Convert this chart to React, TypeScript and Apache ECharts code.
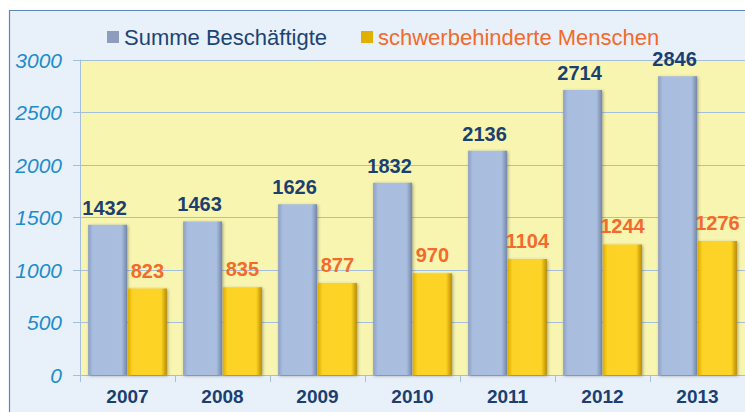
import React, { useEffect, useRef } from "react";
import * as echarts from "echarts";

const years = ["2007", "2008", "2009", "2010", "2011", "2012", "2013"];
const totalEmployed = [1432, 1463, 1626, 1832, 2136, 2714, 2846];
const disabledPeople = [823, 835, 877, 970, 1104, 1244, 1276];
const yTicks = [0, 500, 1000, 1500, 2000, 2500, 3000];

const FONT = "Liberation Sans, Arial, sans-serif";

const blueGrad = new echarts.graphic.LinearGradient(0, 0, 1, 0, [
  { offset: 0, color: "#8c9fc2" },
  { offset: 0.12, color: "#a9bddf" },
  { offset: 0.85, color: "#aabfe0" },
  { offset: 1, color: "#7486a8" },
]);
const yellowGrad = new echarts.graphic.LinearGradient(0, 0, 1, 0, [
  { offset: 0, color: "#e0ae00" },
  { offset: 0.12, color: "#fcd227" },
  { offset: 0.85, color: "#fdd425" },
  { offset: 1, color: "#b98c00" },
]);

export default function App() {
  const ref = useRef<HTMLDivElement>(null);
  useEffect(() => {
    document.body.style.margin = "0";
    const chart = echarts.init(ref.current!, null, { renderer: "svg" });
    chart.setOption({
      animation: false,
      backgroundColor: "#ffffff",
      graphic: [
        {
          type: "rect",
          z: -10,
          shape: { x: 9.5, y: 10.5, width: 745, height: 420 },
          style: { fill: "#e8f1fa", stroke: "#5f86b5", lineWidth: 1.2 },
          silent: true,
        },
      ],
      legend: {
        left: 102,
        top: 21,
        itemWidth: 12,
        itemHeight: 12,
        itemGap: 34,
        icon: "rect",
        data: [
          {
            name: "Summe Beschäftigte",
            textStyle: { color: "#1c4475" },
            itemStyle: { color: "#8e9dbb" },
          },
          {
            name: "schwerbehinderte Menschen",
            textStyle: { color: "#f26a2c" },
            itemStyle: { color: "#e2b000" },
          },
        ],
        textStyle: { fontSize: 22, fontFamily: FONT },
      },
      grid: {
        left: 80,
        right: 0,
        top: 60,
        bottom: 37,
        show: true,
        backgroundColor: "#f8f5b0",
        borderWidth: 0,
      },
      xAxis: {
        type: "category",
        data: years,
        axisLine: { lineStyle: { color: "#a4bedc", width: 1 } },
        axisTick: { show: true, length: 7, lineStyle: { color: "#a4bedc" } },
        axisLabel: {
          color: "#1a3f70",
          fontSize: 19,
          fontWeight: "bold",
          fontFamily: FONT,
          margin: 12,
        },
      },
      yAxis: {
        type: "value",
        min: yTicks[0],
        max: yTicks[yTicks.length - 1],
        interval: 500,
        axisLine: { show: true, lineStyle: { color: "#a4bedc", width: 1 } },
        axisTick: { show: true, length: 7, lineStyle: { color: "#a4bedc" } },
        splitLine: { lineStyle: { color: "#a4bedc", width: 1 } },
        axisLabel: {
          color: "#1d8ccb",
          fontSize: 21,
          fontStyle: "italic",
          fontFamily: FONT,
          margin: 18,
          formatter: (v: number) => String(v),
        },
      },
      series: [
        {
          name: "Summe Beschäftigte",
          type: "bar",
          data: totalEmployed,
          barWidth: 39,
          barGap: "2%",
          itemStyle: {
            color: blueGrad,
            shadowColor: "rgba(60,60,60,0.45)",
            shadowBlur: 3,
            shadowOffsetX: 1,
            shadowOffsetY: 1,
          },
          label: {
            show: true,
            position: "top",
            distance: 7,
            offset: [-3, 0],
            color: "#1a3f70",
            fontSize: 20,
            fontWeight: "bold",
            fontFamily: FONT,
          },
        },
        {
          name: "schwerbehinderte Menschen",
          type: "bar",
          data: disabledPeople,
          barWidth: 39,
          itemStyle: {
            color: yellowGrad,
            shadowColor: "rgba(60,60,60,0.45)",
            shadowBlur: 3,
            shadowOffsetX: 1,
            shadowOffsetY: 1,
          },
          label: {
            show: true,
            position: "top",
            distance: 8,
            color: "#f26a2c",
            fontSize: 20,
            fontWeight: "bold",
            fontFamily: FONT,
          },
        },
      ],
    });
    return () => chart.dispose();
  }, []);
  return <div ref={ref} style={{ width: 745, height: 412 }} />;
}
